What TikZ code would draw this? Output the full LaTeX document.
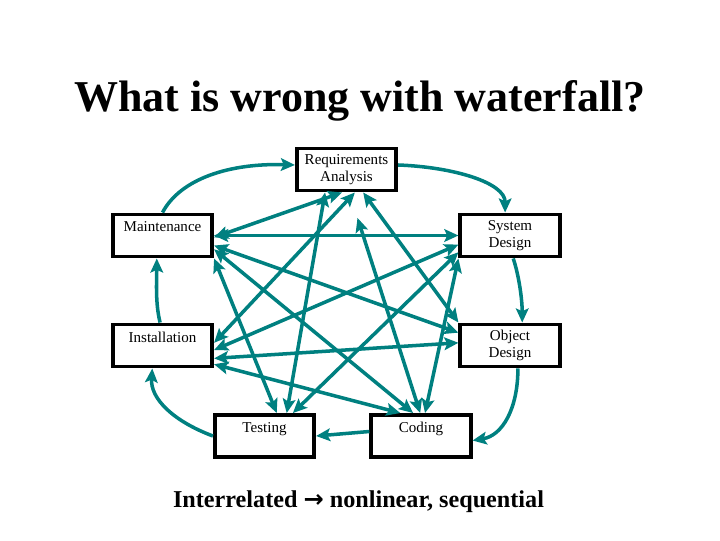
\documentclass[tikz,border=0pt]{standalone}
\usepackage{fontspec}
\setmainfont{Liberation Serif}
\newfontfamily\arrowfont{DejaVu Sans}
\usetikzlibrary{arrows.meta}
\definecolor{flow}{RGB}{0,128,128}
\begin{document}
\begin{tikzpicture}[x=0.025cm,y=-0.025cm,
	box/.style={draw, line width=2.8pt, minimum width=2.48cm, minimum height=1.05cm, inner sep=2pt, align=center, font=\fontsize{10.7}{12.2}\selectfont},
	link/.style={flow, line width=2.5pt, -{Stealth[length=10pt,width=9pt,inset=2pt]}},
	both/.style={link, {Stealth[length=10pt,width=9pt,inset=2pt]}-{Stealth[length=10pt,width=9pt,inset=2pt]}}]
	\useasboundingbox (0,0) rectangle (720,540);
	\node[anchor=base, font=\fontsize{31.3}{36}\selectfont\bfseries] (title) at (360,111) {What is wrong with waterfall?};
	\node[box] (req) at (346.5,169.5) {Requirements\\Analysis};
	\node[box] (maint) at (162.5,235.5) {Maintenance\\~};
	\node[box] (sysd) at (510,235.5) {System\\Design};
	\node[box] (inst) at (162.5,345.5) {Installation\\~};
	\node[box] (objd) at (510,345.5) {Object\\Design};
	\node[box] (test) at (264.5,436) {Testing\\~};
	\node[box] (code) at (421,436) {Coding\\~};
	\node[anchor=base, font=\fontsize{17.2}{20}\selectfont\bfseries] (note) at (358.5,507) {Interrelated {\arrowfont →} nonlinear, sequential};
	% the waterfall loop
	\draw[link] (maint.north) .. controls +(18,-34) and +(-65,-2) .. (req.175);
	\draw[link] (req.5) .. controls +(55,2) and +(0,-30) .. (sysd.102);
	\draw[link] (sysd.-82) .. controls +(6,18) and +(0,-22) .. (objd.62);
	\draw[link] (objd.-71) .. controls +(0,40) and +(30,-5) .. (code.-5);
	\draw[link] (code.175) -- (test.east);
	\draw[link] (test.west) .. controls +(-40,-15) and +(-2,30) .. (inst.-114);
	\draw[link] (inst.96) .. controls +(-5,-20) and +(0,22) .. (maint.-104);
	% everything talks to everything
	\draw[both] (maint.east) -- (sysd.west);
	\draw[both] (maint.-2) -- (req.-101);
	\draw[both] (maint.-11) -- (objd.166);
	\draw[both] (maint.-15) -- (code.109);
	\draw[both] (maint.south east) -- (test.62);
	\draw[both] (req.-133) -- (test.46);
	\draw[both] (req.-70) -- (inst.3);
	\draw[both] (req.-54) -- (objd.north west);
	\draw[both, shorten <=19pt] (req.-83) -- (code.92);
	\draw[both] (sysd.190) -- (inst.-5);
	\draw[both] (sysd.198) -- (test.39);
	\draw[both] (sysd.south west) -- (code.80);
	\draw[both] (objd.177) -- (inst.-14);
	\draw[both] (inst.-20) -- (code.132);
\end{tikzpicture}
\end{document}
